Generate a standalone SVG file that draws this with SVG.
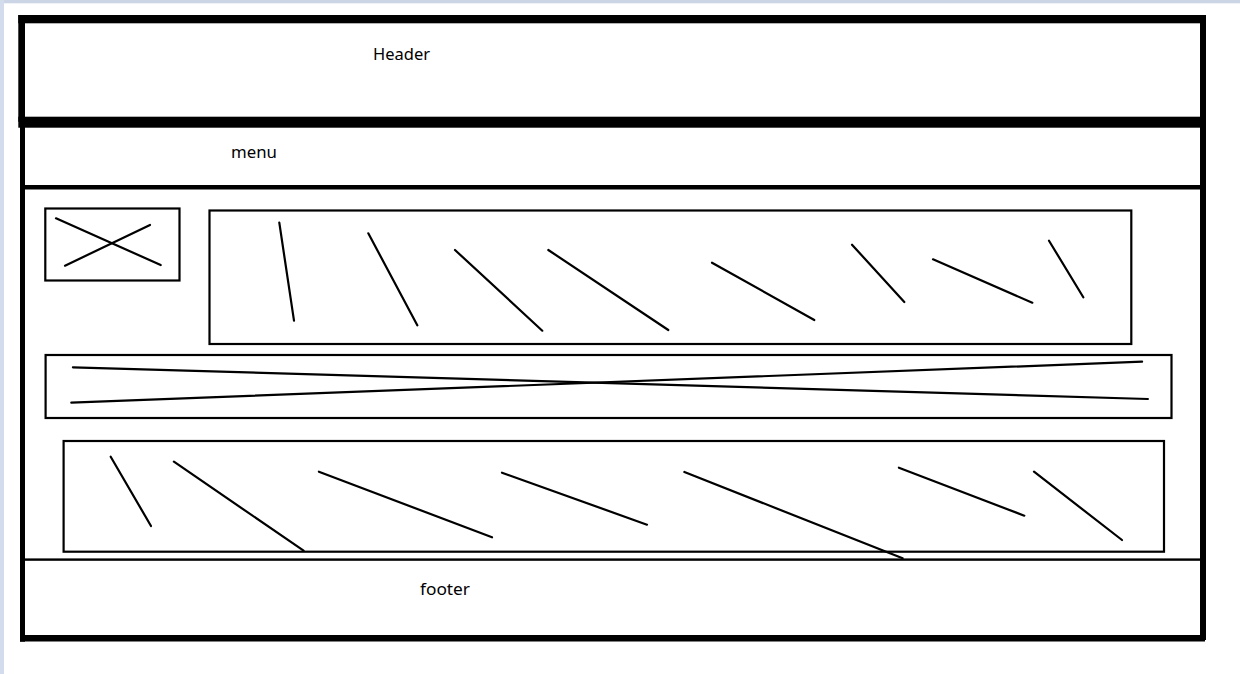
<svg xmlns="http://www.w3.org/2000/svg" width="1240" height="674" viewBox="0 0 1240 674">
<style>
.frame{fill:#000}
.box{fill:none;stroke:#000;stroke-width:2.2}
.sk{stroke:#000;stroke-width:2.2;stroke-linecap:round}
.lbl{font-family:"Noto Sans","Open Sans","DejaVu Sans",sans-serif;font-size:16.5px;fill:#000}
</style>
<rect x="0" y="0" width="1240" height="674" fill="#ffffff"/>
<rect x="0" y="0" width="1240" height="3.3" fill="#cbd5e5"/>
<rect x="0" y="0" width="4" height="674" fill="#d3dcec"/>
<g id="header">
<rect class="frame" x="18.3" y="15" width="1187.7" height="8.3"/>
<rect class="frame" x="18.3" y="15" width="6.7" height="106.7"/>
<rect class="frame" x="18.3" y="116.7" width="1187.7" height="11"/>
<text class="lbl" x="373" y="60" textLength="57" lengthAdjust="spacingAndGlyphs">Header</text>
</g>
<g id="page-frame">
<rect class="frame" x="1200" y="15" width="6" height="625"/>
<rect class="frame" x="20" y="116.7" width="5" height="525"/>
<rect class="frame" x="20" y="635" width="1185" height="6.5"/>
</g>
<g id="menu">
<rect class="frame" x="25" y="185" width="1175" height="4.5"/>
<text class="lbl" x="231" y="158" textLength="46" lengthAdjust="spacingAndGlyphs">menu</text>
</g>
<g id="image-placeholder">
<rect class="box" x="45.3" y="208.5" width="134.2" height="72"/>
<line class="sk" x1="56" y1="218.3" x2="160.7" y2="265"/>
<line class="sk" x1="65" y1="265.7" x2="150" y2="225"/>
</g>
<g id="content-top">
<rect class="box" x="209.5" y="210.5" width="921.8" height="133.5"/>
<line class="sk" x1="279.3" y1="222.7" x2="294" y2="320.7"/>
<line class="sk" x1="368.3" y1="233.3" x2="417.3" y2="325.3"/>
<line class="sk" x1="455" y1="250" x2="542.3" y2="330.7"/>
<line class="sk" x1="548.3" y1="250" x2="668.3" y2="330"/>
<line class="sk" x1="712" y1="262.7" x2="814.3" y2="320"/>
<line class="sk" x1="852" y1="244.7" x2="904.3" y2="302"/>
<line class="sk" x1="933" y1="259.3" x2="1032.3" y2="302.7"/>
<line class="sk" x1="1049" y1="240.7" x2="1083.3" y2="297.3"/>
</g>
<g id="content-banner">
<rect class="box" x="45.6" y="355" width="1125.9" height="63"/>
<line class="sk" x1="72.9" y1="367.3" x2="1147.9" y2="399"/>
<line class="sk" x1="71.3" y1="402.7" x2="1142.1" y2="361.7"/>
</g>
<g id="content-bottom">
<rect class="box" x="63.6" y="441" width="1100.4" height="110.7"/>
<line class="sk" x1="110.7" y1="456.7" x2="151" y2="526"/>
<line class="sk" x1="173.9" y1="461.7" x2="303.6" y2="550.7"/>
<line class="sk" x1="318.9" y1="471.7" x2="492" y2="537.3"/>
<line class="sk" x1="502" y1="472.7" x2="647" y2="524.7"/>
<line class="sk" x1="684.4" y1="472" x2="902.6" y2="558.3"/>
<line class="sk" x1="898.9" y1="467.7" x2="1024.3" y2="515.7"/>
<line class="sk" x1="1034" y1="471.7" x2="1122" y2="540"/>
</g>
<g id="footer">
<rect class="frame" x="25" y="558.4" width="1175" height="2.4"/>
<text class="lbl" x="420" y="595" textLength="50" lengthAdjust="spacingAndGlyphs">footer</text>
</g>
<g id="connectors"/>
</svg>
